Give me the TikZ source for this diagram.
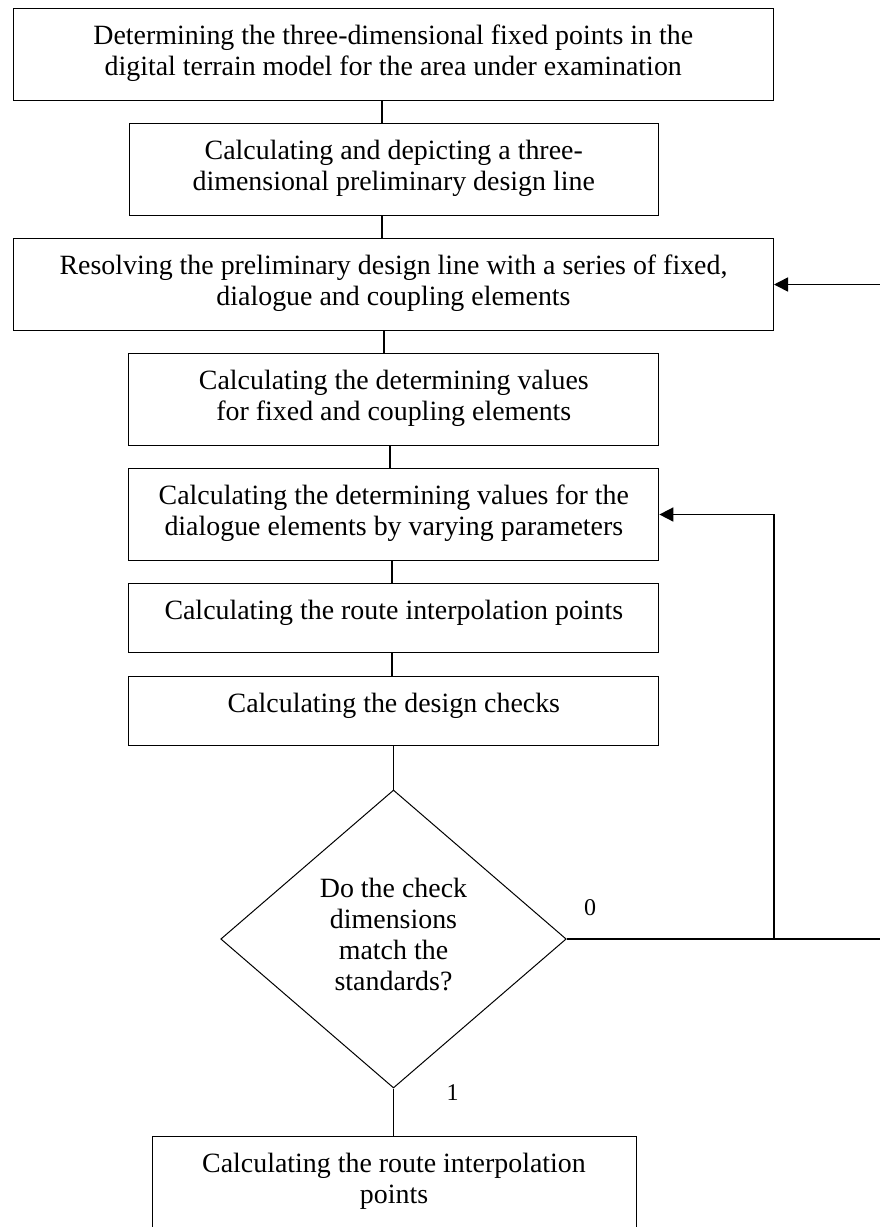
\documentclass[tikz,border=0pt]{standalone}
\usepackage{fontspec}
\setmainfont{Liberation Serif}
\usetikzlibrary{shapes.geometric,arrows.meta}
\newcommand\twol[1]{\begin{tabular}[t]{@{}c@{}}#1\end{tabular}}
\begin{document}
\begin{tikzpicture}[x=1pt,y=-1pt,
  txt/.style={font=\fontsize{27.9pt}{31.3pt}\selectfont},
  box/.style={draw, line width=1pt, inner sep=0pt, anchor=north, txt, text height=36pt},
  two/.style={box, text depth=56pt},
  one/.style={box, text depth=33pt},
  conn/.style={line width=1.6pt},
  arr/.style={conn, -{Triangle[length=14pt,width=14pt]}},
  lbl/.style={font=\fontsize{24pt}{28pt}\selectfont, inner sep=0pt, anchor=base}]
\useasboundingbox (0,0) rectangle (880,1227);
\clip (0,0) rectangle (880,1227);

\node[two, minimum width=759.5pt] (b1) at (393.25,8)
  {\twol{Determining the three-dimensional fixed points in the\\digital terrain model for the area under examination}};
\node[two, minimum width=529.5pt] (b2) at (393.75,123)
  {\twol{Calculating and depicting a three-\\dimensional preliminary design line}};
\node[two, minimum width=760pt] (b3) at (393.5,238)
  {\twol{Resolving the preliminary design line with a series of fixed,\\dialogue and coupling elements}};
\node[two, minimum width=530pt] (b4) at (393.85,353)
  {\twol{Calculating the determining values\\for fixed and coupling elements}};
\node[two, minimum width=530pt] (b5) at (393.85,468)
  {\twol{Calculating the determining values for the\\dialogue elements by varying parameters}};
\node[one, minimum width=530pt] (b6) at (393.85,583)
  {\twol{Calculating the route interpolation points}};
\node[one, minimum width=530pt] (b7) at (393.85,676)
  {\twol{Calculating the design checks}};

\node[diamond, draw, line width=1pt, minimum width=345.5pt, minimum height=298pt, inner sep=0pt] (d) at (393.5,939) {};
\node[txt, anchor=base, inner sep=0pt] (dq) at (393.5,897)
  {\twol{Do the check\\dimensions\\match the\\standards?}};

\node[box, text depth=120pt, minimum width=484pt] (b8) at (394,1136)
  {\twol{Calculating the route interpolation\\points}};

\node[lbl] (l0) at (590,915) {0};
\node[lbl] (l1) at (452.5,1100) {1};

\coordinate (edgeR) at (880,0);
\coordinate (loopX) at (774,0);

\draw[conn] ([xshift=-11pt]b1.south) -- ([xshift=-11pt]b1.south |- b2.north);
\draw[conn] ([xshift=-12pt]b2.south) -- ([xshift=-12pt]b2.south |- b3.north);
\draw[conn] ([xshift=-9.5pt]b3.south) -- ([xshift=-9.5pt]b3.south |- b4.north);
\draw[conn] ([xshift=-4pt]b4.south) -- ([xshift=-4pt]b4.south |- b5.north);
\draw[conn] ([xshift=-2pt]b5.south) -- ([xshift=-2pt]b5.south |- b6.north);
\draw[conn] ([xshift=-2pt]b6.south) -- ([xshift=-2pt]b6.south |- b7.north);
\draw[conn] (b7.south -| d.north) -- (d.north);
\draw[conn] (d.south) -- (d.south |- b8.north);
\draw[conn] (d.east) -- (d.east -| edgeR);
\draw[arr] (d.east -| loopX) |- (b5.east);
\draw[arr] (b3.east -| edgeR) -- (b3.east);
\end{tikzpicture}
\end{document}
